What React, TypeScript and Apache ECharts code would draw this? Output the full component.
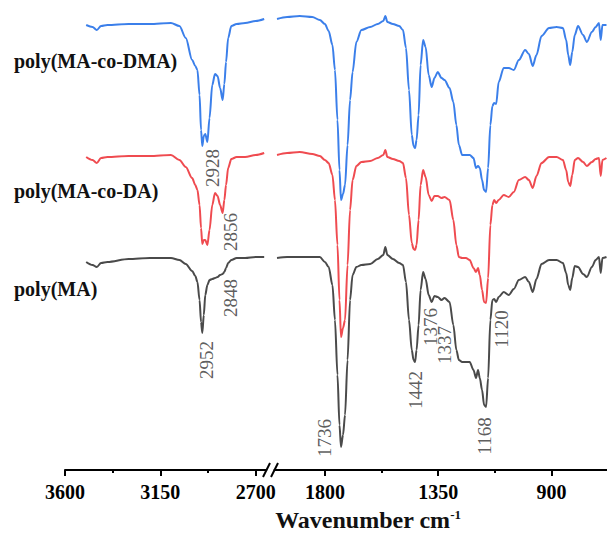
import { useEffect, useRef } from "react";
import * as echarts from "echarts";

// ---- data (transmittance, arbitrary units, curves already vertically offset) ----
const seriesNames = ["poly(MA-co-DMA)", "poly(MA-co-DA)", "poly(MA)"];
const seriesColors = ["#3b7fea", "#ef4b50", "#4a4a4a"];

const wnLeft = [3500, 3470, 3450, 3430, 3400, 3300, 3200, 3100, 3060, 3030, 3000, 2985, 2975, 2965, 2958, 2952, 2945, 2938, 2928, 2918, 2905, 2892, 2880, 2868, 2856, 2848, 2840, 2830, 2815, 2790, 2750, 2700, 2660];
const blueLeft = [445, 443, 440, 444, 445, 446, 446, 447, 444, 432, 410, 404, 400, 375, 340, 324, 334, 336, 328, 352, 385, 396, 394, 382, 370, 386, 408, 432, 444, 446, 447, 449, 451];
const redLeft = [313, 310, 307, 312, 313, 314, 314, 315, 310, 303, 292, 285, 280, 265, 242, 226, 230, 230, 225, 240, 265, 277, 274, 265, 257, 270, 285, 302, 311, 313, 313, 315, 317];
const blackLeft = [208, 205, 203, 207, 208, 211, 212, 212, 210, 206, 199, 194, 188, 170, 148, 137, 155, 175, 185, 190, 191, 192, 193, 195, 196, 198, 202, 207, 210, 212, 212, 213, 213];

const wnRight = [1990, 1950, 1900, 1850, 1820, 1800, 1785, 1770, 1760, 1750, 1742, 1736, 1728, 1720, 1710, 1700, 1690, 1675, 1655, 1620, 1590, 1568, 1560, 1552, 1530, 1505, 1490, 1478, 1466, 1455, 1448, 1442, 1436, 1428, 1420, 1410, 1400, 1388, 1376, 1365, 1352, 1337, 1325, 1305, 1290, 1278, 1268, 1255, 1240, 1225, 1210, 1200, 1192, 1185, 1176, 1168, 1160, 1152, 1143, 1135, 1128, 1120, 1110, 1090, 1070, 1050, 1030, 1005, 990, 975, 960, 940, 910, 880, 855, 842, 834, 826, 818, 808, 795, 775, 760, 740, 725, 712, 705, 698, 682];
const blueRight = [451, 453, 454, 453, 450, 446, 439, 425, 400, 350, 300, 270, 276, 285, 325, 370, 398, 428, 440, 443, 446, 449, 454, 448, 446, 444, 440, 422, 380, 335, 324, 322, 330, 355, 405, 430, 423, 395, 383, 392, 398, 392, 390, 382, 368, 345, 325, 315, 315, 315, 312, 302, 304, 302, 290, 280, 278, 302, 345, 364, 367, 366, 388, 402, 402, 400, 410, 420, 416, 404, 415, 434, 442, 443, 442, 430, 415, 405, 418, 435, 444, 435, 428, 438, 443, 447, 430, 445, 445];
const redRight = [315, 317, 318, 316, 314, 310, 307, 295, 270, 225, 170, 133, 142, 150, 205, 260, 290, 304, 308, 309, 312, 315, 320, 313, 311, 309, 307, 292, 255, 227, 221, 220, 225, 250, 285, 300, 293, 275, 269, 274, 274, 272, 273, 270, 250, 225, 213, 212, 212, 210, 202, 198, 202, 195, 180, 168, 167, 192, 245, 265, 270, 267, 270, 275, 273, 278, 290, 293, 290, 282, 294, 307, 313, 313, 310, 300, 288, 284, 295, 310, 312, 308, 304, 308, 311, 312, 294, 310, 312];
const blackRight = [212, 213, 213, 213, 213, 208, 203, 185, 150, 95, 45, 23, 35, 55, 110, 170, 195, 203, 205, 206, 211, 215, 223, 215, 211, 207, 205, 188, 150, 120, 110, 108, 120, 145, 180, 198, 191, 175, 168, 174, 173, 170, 172, 168, 145, 120, 110, 108, 108, 108, 100, 92, 100, 92, 80, 65, 63, 92, 150, 170, 171, 168, 173, 178, 175, 181, 190, 193, 188, 178, 191, 206, 210, 210, 207, 197, 185, 180, 192, 204, 203, 196, 193, 203, 210, 213, 197, 212, 213];

const leftTicks = [3600, 3150, 2700];
const leftMinorTicks = [3375, 2925];
const rightTicks = [1800, 1350, 900];
const rightMinorTicks = [1575, 1125];

const peakLeft = [2952, 2928, 2856, 2848];
const peakLeftY = [110, 302, 238, 172];
const peakRight = [1736, 1442, 1376, 1337, 1168, 1120];
const peakRightY = [32, 80, 143, 125, 34, 141];

const SERIF = "'Liberation Serif', 'Times New Roman', 'DejaVu Serif', serif";

function zip(xs: number[], ys: number[]) {
  return xs.map((x, i) => [x, ys[i]]);
}

export default function App() {
  const ref = useRef<HTMLDivElement>(null);
  useEffect(() => {
    if (!ref.current) return;
    const chart = echarts.init(ref.current, undefined, { renderer: "svg" });

    const majorAxis = (grid: number, min: number, max: number, ticks: number[]) => ({
      type: "value",
      gridIndex: grid,
      position: "bottom",
      min,
      max,
      inverse: true,
      axisLine: { show: true, onZero: false, lineStyle: { color: "#000", width: 2 } },
      axisTick: { show: true, customValues: ticks, length: 6, lineStyle: { color: "#000", width: 2 } },
      axisLabel: {
        show: true,
        customValues: ticks,
        formatter: (v: number) => String(v),
        margin: 12,
        color: "#000",
        fontFamily: SERIF,
        fontWeight: "bold",
        fontSize: 20,
      },
      splitLine: { show: false },
    });
    const minorAxis = (grid: number, min: number, max: number, ticks: number[]) => ({
      type: "value",
      gridIndex: grid,
      position: "bottom",
      min,
      max,
      inverse: true,
      axisLine: { show: false, onZero: false },
      axisTick: { show: true, customValues: ticks, length: 3, lineStyle: { color: "#000", width: 2 } },
      axisLabel: { show: false },
      splitLine: { show: false },
    });

    const lineSeries = (name: string, color: string, xi: number, yi: number, data: number[][]) => ({
      name,
      type: "line",
      xAxisIndex: xi,
      yAxisIndex: yi,
      data,
      showSymbol: false,
      symbol: "none",
      smooth: 0.3,
      smoothMonotone: "x",
      lineStyle: { color, width: 2 },
      silent: true,
    });

    // label offsets are in the rotated frame: [along text, across text]; across = rightwards on screen
    const labelSeries = (xi: number, yi: number, wns: number[], ys: number[], shifts: number[]) => ({
      type: "scatter",
      xAxisIndex: xi,
      yAxisIndex: yi,
      symbolSize: 0,
      silent: true,
      data: wns.map((w, i) => ({
        name: String(w),
        value: [w, ys[i]],
        label: { offset: [0, shifts[i]] },
      })),
      label: {
        show: true,
        position: "inside",
        rotate: 90,
        formatter: "{b}",
        color: "#333",
        fontFamily: SERIF,
        fontSize: 19,
      },
      z: 5,
    });

    chart.setOption({
      animation: false,
      backgroundColor: "#fff",
      grid: [
        { left: 65, top: 10, width: 201.3, height: 460 },
        { left: 274.5, top: 10, width: 333, height: 460 },
      ],
      xAxis: [
        majorAxis(0, 2650, 3600, leftTicks),
        minorAxis(0, 2650, 3600, leftMinorTicks),
        majorAxis(1, 680, 2000, rightTicks),
        minorAxis(1, 680, 2000, rightMinorTicks),
      ],
      yAxis: [
        { type: "value", gridIndex: 0, min: 0, max: 460, show: false },
        { type: "value", gridIndex: 1, min: 0, max: 460, show: false },
      ],
      series: [
        lineSeries(seriesNames[0], seriesColors[0], 0, 0, zip(wnLeft, blueLeft)),
        lineSeries(seriesNames[1], seriesColors[1], 0, 0, zip(wnLeft, redLeft)),
        lineSeries(seriesNames[2], seriesColors[2], 0, 0, zip(wnLeft, blackLeft)),
        lineSeries(seriesNames[0], seriesColors[0], 2, 1, zip(wnRight, blueRight)),
        lineSeries(seriesNames[1], seriesColors[1], 2, 1, zip(wnRight, redRight)),
        lineSeries(seriesNames[2], seriesColors[2], 2, 1, zip(wnRight, blackRight)),
        labelSeries(0, 0, peakLeft, peakLeftY, [4, 5, 8, 6]),
        labelSeries(2, 1, peakRight, peakRightY, [-17, 0, -1, 3, 0, 5]),
      ],
      graphic: [
        {
          type: "text",
          left: 14,
          top: 51,
          style: { text: seriesNames[0], fill: "#111", font: `bold 20px ${SERIF}` },
        },
        {
          type: "text",
          left: 14,
          top: 181,
          style: { text: seriesNames[1], fill: "#111", font: `bold 20px ${SERIF}` },
        },
        {
          type: "text",
          left: 14,
          top: 279,
          style: { text: seriesNames[2], fill: "#111", font: `bold 20px ${SERIF}` },
        },
        {
          type: "line",
          shape: { x1: 263, y1: 477, x2: 270, y2: 463 },
          style: { stroke: "#000", lineWidth: 2 },
        },
        {
          type: "line",
          shape: { x1: 271, y1: 477, x2: 278, y2: 463 },
          style: { stroke: "#000", lineWidth: 2 },
        },
        {
          type: "text",
          x: 368,
          y: 520,
          style: {
            text: "Wavenumber cm{sup|-1}",
            align: "center",
            verticalAlign: "middle",
            fill: "#111",
            font: `bold 24px ${SERIF}`,
            rich: {
              sup: {
                fontSize: 13,
                fontWeight: "bold",
                fontFamily: SERIF,
                verticalAlign: "top",
                fill: "#111",
              },
            },
          },
        },
      ],
    });
    return () => chart.dispose();
  }, []);
  return (
    <div
      ref={ref}
      style={{ position: "absolute", left: 0, top: 0, width: 607, height: 538, background: "#fff" }}
    />
  );
}
